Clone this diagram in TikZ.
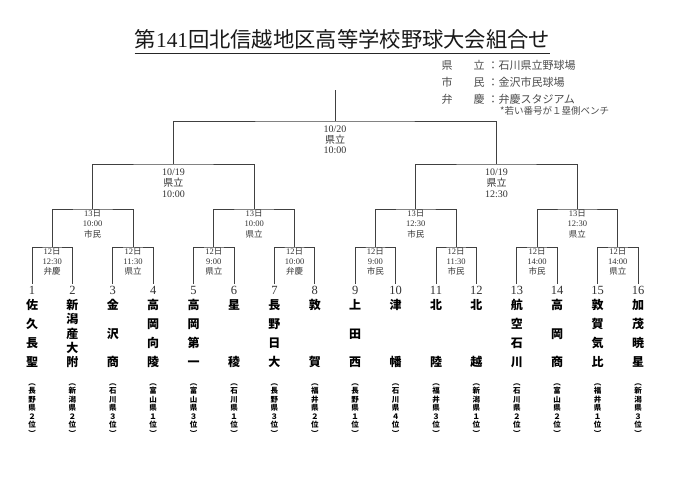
\documentclass[tikz,border=0pt]{standalone}
\usepackage{fontspec}
\setmainfont{Liberation Serif}
\newfontfamily\jp{Noto Sans CJK JP}
\newcommand\dg[1]{{\rmfamily #1}}
\newcommand\cbox[1]{\hbox to 1.2em{\hss\vrule height .88em depth .12em width 0pt\relax #1\hss}}
\def\vstackfirst#1{\cbox{#1}\vstackrest}
\def\vstackrest#1{\ifx\relax#1\else\vfill\cbox{#1}\expandafter\vstackrest\fi}
\newcommand\vstack[2]{\vbox to #1{\offinterlineskip\expandafter\vstackfirst#2\relax\kern0pt}}
\tikzset{
  line/.style={draw=black!75, line width=0.9pt},
  lab/.style={align=center, anchor=north, inner sep=0pt, text=black!80},
  labA/.style={lab, font=\jp\fontsize{8.5}{10.3}\selectfont},
  labB/.style={lab, font=\jp\fontsize{8.5}{10.8}\selectfont},
  labC/.style={lab, font=\jp\fontsize{10}{10.8}\selectfont},
  num/.style={inner sep=0pt, text=black!80, font=\fontsize{12.5}{12.5}\selectfont},
  tname/.style={inner sep=0pt, text=black, font=\jp\bfseries\fontsize{12}{12}\selectfont},
  pref/.style={inner sep=0pt, text=black, font=\jp\bfseries\fontsize{7.5}{7.5}\selectfont},
  title/.style={inner sep=0pt, anchor=base, text=black!90, font=\jp\fontsize{21.3}{21.3}\selectfont},
  legend/.style={inner sep=0pt, anchor=base west, text=black!70},
  uline/.style={draw=black!85, line width=0.9pt}
}
\begin{document}
\begin{tikzpicture}[x=1pt,y=-1pt]
\fill[white] (0,0) rectangle (687,486);
\useasboundingbox (0,0) rectangle (687,486);

% title
\node[title] (title) at (342.5,48) {第\dg{141}回北信越地区高等学校野球大会組合せ};
\draw[uline] ([yshift=-5.5pt]title.base west) -- ([yshift=-5.5pt]title.base east);

% legend
\node[legend, font=\jp\fontsize{11}{11}\selectfont] (lg1) at (441.5,69.9) {\hbox to 43pt{県\hss 立}\kern3pt：石川県立野球場};
\node[legend, font=\jp\fontsize{11}{11}\selectfont] (lg2) at (441.5,86.9) {\hbox to 43pt{市\hss 民}\kern3pt：金沢市民球場};
\node[legend, font=\jp\fontsize{11}{11}\selectfont] (lg3) at (441.5,103.2) {\hbox to 43pt{弁\hss 慶}\kern3pt：弁慶スタジアム};
\node[legend, font=\jp\fontsize{9.5}{9.5}\selectfont] (lg4) at (500,114.6) {*若い番号が１塁側ベンチ};

% team anchor points
\foreach \i in {1,...,16} \coordinate (t\i) at ({32+40.4*(\i-1)},284);
\foreach \k in {1,...,8} \coordinate (m\k) at ({32+40.4*(2*\k-1.5)},247);
\foreach \k in {1,...,4} \coordinate (q\k) at ({32+40.4*(4*\k-2.5)},209);
\foreach \k in {1,2} \coordinate (s\k) at ({32+40.4*(8*\k-4.5)},164);
\coordinate (f) at (335,121);
\coordinate (top) at (335,90);

% bracket lines
\foreach \k [evaluate=\k as \a using int(2*\k-1), evaluate=\k as \b using int(2*\k)] in {1,...,8}
  \draw[line] (t\a) |- (m\k) -| (t\b);
\foreach \k [evaluate=\k as \a using int(2*\k-1), evaluate=\k as \b using int(2*\k)] in {1,...,4}
  \draw[line] (m\a) |- (q\k) -| (m\b);
\foreach \k [evaluate=\k as \a using int(2*\k-1), evaluate=\k as \b using int(2*\k)] in {1,2}
  \draw[line] (q\a) |- (s\k) -| (q\b);
\draw[line] (s1) |- (f) -| (s2);
\draw[line] (f) -- (top);

% round 1 labels
\node[labA] (lm1) at ([yshift=-0.5pt]m1) {\dg{12}日\\\dg{12:30}\\弁慶};
\node[labA] (lm2) at ([yshift=-0.5pt]m2) {\dg{12}日\\\dg{11:30}\\県立};
\node[labA] (lm3) at ([yshift=-0.5pt]m3) {\dg{12}日\\\dg{9:00}\\県立};
\node[labA] (lm4) at ([yshift=-0.5pt]m4) {\dg{12}日\\\dg{10:00}\\弁慶};
\node[labA] (lm5) at ([yshift=-0.5pt]m5) {\dg{12}日\\\dg{9:00}\\市民};
\node[labA] (lm6) at ([yshift=-0.5pt]m6) {\dg{12}日\\\dg{11:30}\\市民};
\node[labA] (lm7) at ([yshift=-0.5pt]m7) {\dg{12}日\\\dg{14:00}\\市民};
\node[labA] (lm8) at ([yshift=-0.5pt]m8) {\dg{12}日\\\dg{14:00}\\県立};
% round 2 labels
\node[labB] (lq1) at ([yshift=-0.3pt]q1) {\dg{13}日\\\dg{10:00}\\市民};
\node[labB] (lq2) at ([yshift=-0.3pt]q2) {\dg{13}日\\\dg{10:00}\\県立};
\node[labB] (lq3) at ([yshift=-0.3pt]q3) {\dg{13}日\\\dg{12:30}\\市民};
\node[labB] (lq4) at ([yshift=-0.3pt]q4) {\dg{13}日\\\dg{12:30}\\県立};
% semifinal and final labels
\node[labC] (ls1) at ([yshift=-5.1pt]s1) {\dg{10/19}\\県立\\\dg{10:00}};
\node[labC] (ls2) at ([yshift=-5.1pt]s2) {\dg{10/19}\\県立\\\dg{12:30}};
\node[labC] (lf) at ([yshift=-4.4pt]f) {\dg{10/20}\\県立\\\dg{10:00}};

% teams
\foreach \i/\nm/\pf in {
  1/佐久長聖/︵長野県２位︶, 2/新潟産大附/︵新潟県２位︶, 3/金沢商/︵石川県３位︶, 4/高岡向陵/︵富山県１位︶,
  5/高岡第一/︵富山県３位︶, 6/星稜/︵石川県１位︶, 7/長野日大/︵長野県３位︶, 8/敦賀/︵福井県２位︶,
  9/上田西/︵長野県１位︶, 10/津幡/︵石川県４位︶, 11/北陸/︵福井県３位︶, 12/北越/︵新潟県１位︶,
  13/航空石川/︵石川県２位︶, 14/高岡商/︵富山県２位︶, 15/敦賀気比/︵福井県１位︶, 16/加茂暁星/︵新潟県３位︶}{
  \node[num] (n\i) at ({32+40.4*(\i-1)},290) {\i};
  \node[tname] (nm\i) at ({32+40.4*(\i-1)},333.5) {\vstack{69pt}{\nm}};
  \node[pref] (pf\i) at ({32+40.4*(\i-1)},408) {\vstack{58.1pt}{\pf}};
}
\end{tikzpicture}
\end{document}
